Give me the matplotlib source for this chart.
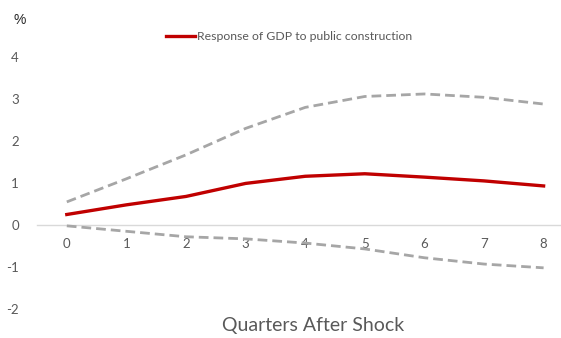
import matplotlib
matplotlib.use("Agg")
import matplotlib.pyplot as plt

quarters = [0, 1, 2, 3, 4, 5, 6, 7, 8]
response = [0.25, 0.48, 0.68, 0.99, 1.16, 1.22, 1.14, 1.05, 0.93]
upper = [0.55, 1.10, 1.67, 2.30, 2.80, 3.06, 3.12, 3.04, 2.88]
lower = [-0.02, -0.15, -0.28, -0.33, -0.43, -0.57, -0.78, -0.93, -1.02]
ytick_vals = [-2, -1, 0, 1, 2, 3, 4]

W, H = 561, 338
fig = plt.figure(figsize=(W / 100, H / 100), dpi=100)
plt.rcParams['font.family'] = ['Lato', 'DejaVu Sans']

# axes: x from -0.5..8.5 maps to px 37..573, y -2..4 maps to px 309..57
x0, x1 = 37, 37 + 9 * 59.6
ax = fig.add_axes([x0 / W, (H - 309) / H, (x1 - x0) / W, 252 / H])
ax.set_xlim(-0.5, 8.5)
ax.set_ylim(-2, 4)

ax.plot(quarters, upper, color='#A6A6A6', lw=2.0, ls=(0, (3.5, 1.8)), zorder=2)
ax.plot(quarters, lower, color='#A6A6A6', lw=2.0, ls=(0, (3.5, 1.8)), zorder=2)
ax.plot(quarters, response, color='#C00000', lw=2.4, zorder=3,
        label='Response of GDP to public construction')

for s in ['top', 'right', 'left']:
    ax.spines[s].set_visible(False)
ax.spines['bottom'].set_position(('data', 0))
ax.spines['bottom'].set_color('#D9D9D9')
ax.spines['bottom'].set_linewidth(1.0)
ax.spines['bottom'].set_zorder(1)

ax.set_xticks(quarters)
ax.set_xticklabels([str(q) for q in quarters])
ax.set_yticks(ytick_vals)
ax.set_yticklabels([str(v) for v in ytick_vals])
ax.tick_params(axis='both', length=0, labelsize=9.5, labelcolor='#595959')
ax.tick_params(axis='x', pad=9)
ax.tick_params(axis='y', pad=13)

leg = ax.legend(loc='center', bbox_to_anchor=((289 - x0) / (x1 - x0), (309 - 37) / 252),
                frameon=False, fontsize=8.8, handlelength=2.4, handletextpad=0.1,
                labelcolor='#595959', borderpad=0)

fig.text(20 / W, 1 - 20 / H, '%', fontsize=10, color='#262626', ha='center', va='center',
         family=['Liberation Sans'])
fig.text(313 / W, 1 - 326 / H, 'Quarters After Shock', fontsize=14, color='#595959',
         ha='center', va='center')

fig.savefig('out.png', dpi=100)
